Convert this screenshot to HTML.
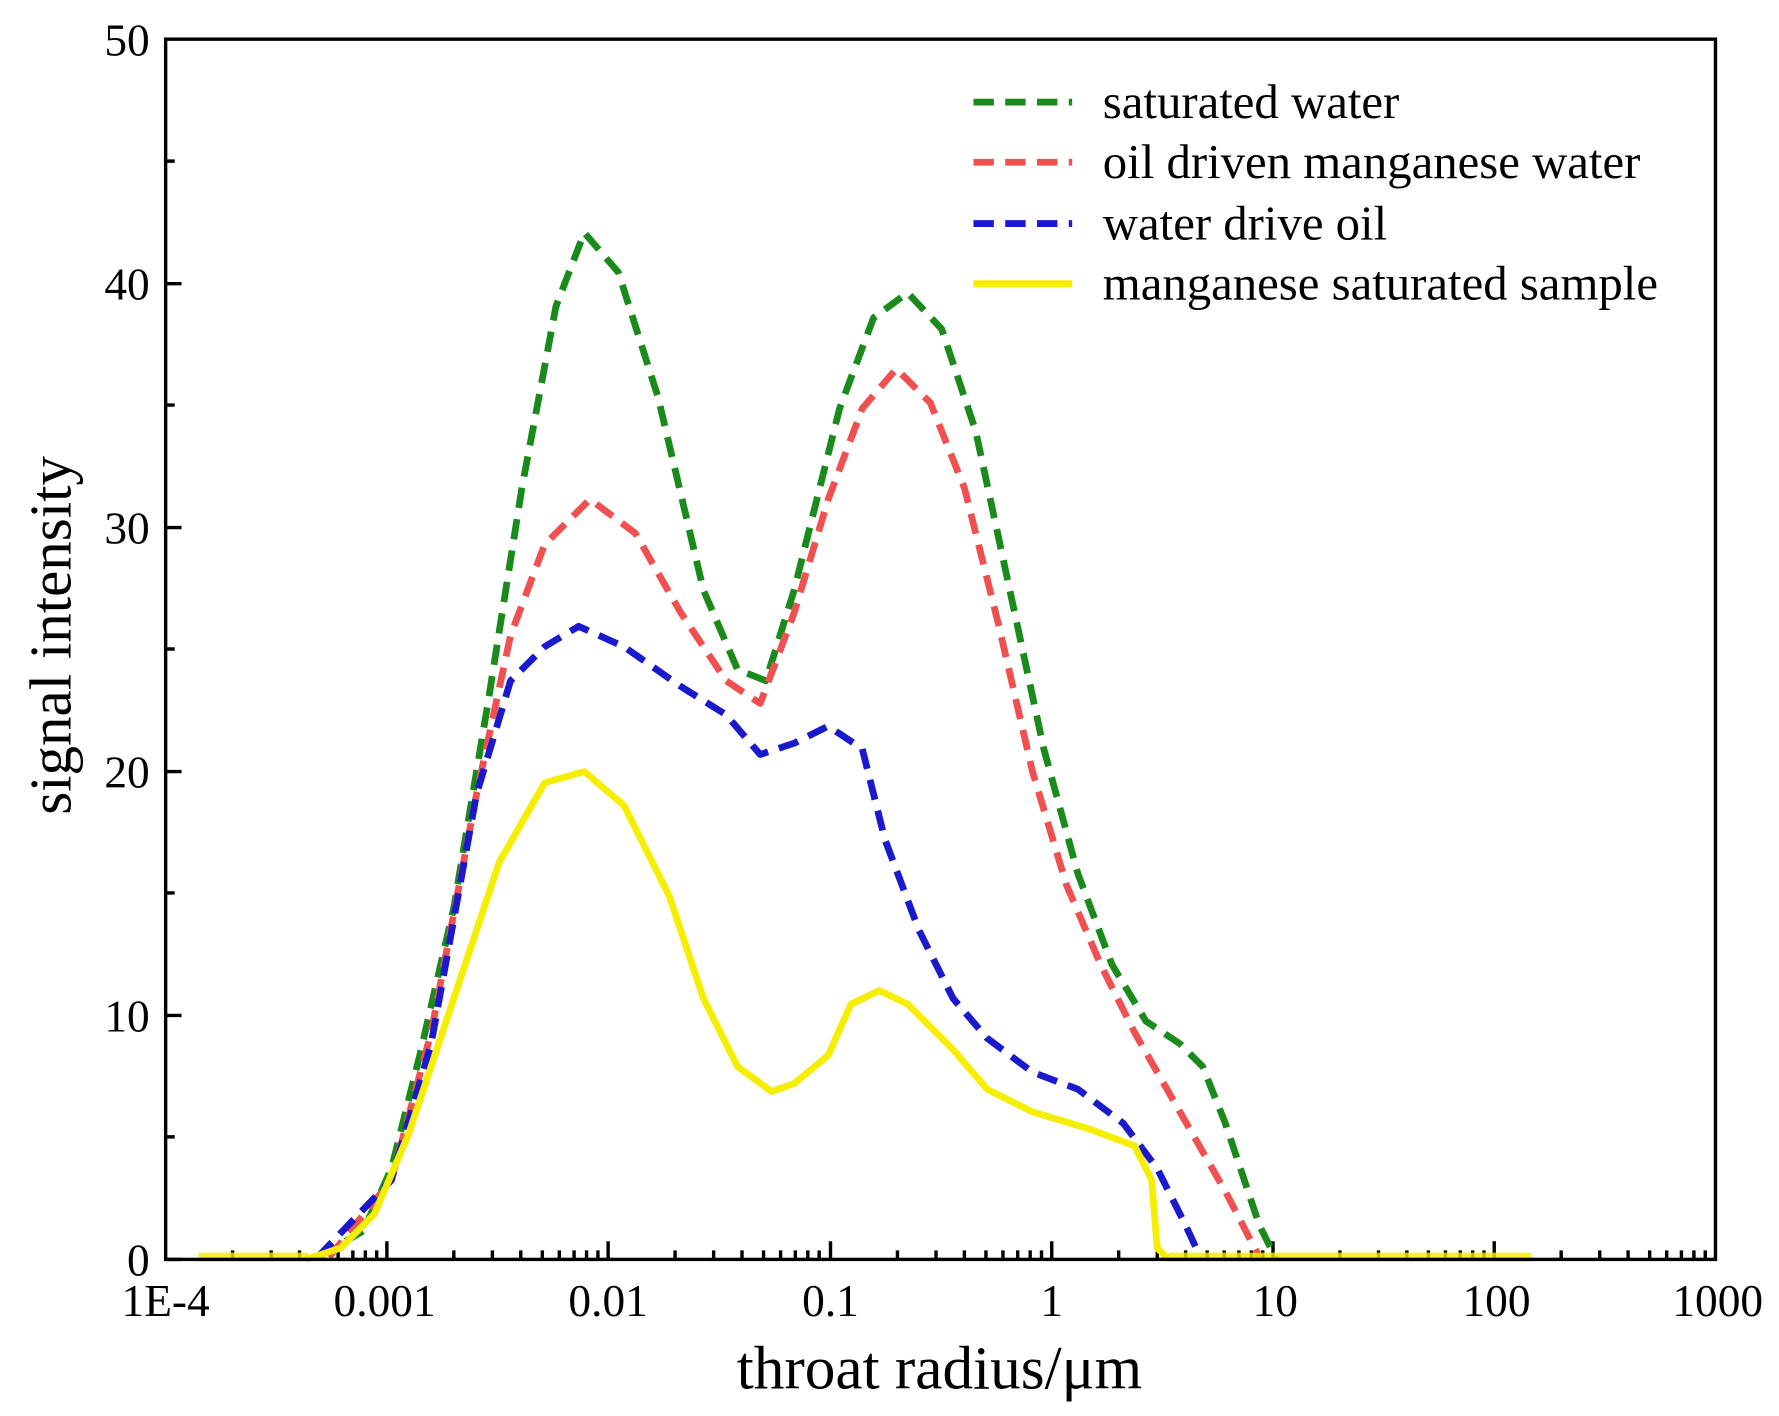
<!DOCTYPE html>
<html><head><meta charset="utf-8"><style>html,body{margin:0;padding:0;background:#fff}svg{display:block}</style></head>
<body>
<svg width="1779" height="1416" viewBox="0 0 1568 1248" xmlns="http://www.w3.org/2000/svg" font-family="'Liberation Serif',serif">
<rect width="1568" height="1248" fill="#fff"/>
<g stroke="#000" stroke-width="3">
<path d="M146 1110h14M146 895h14M146 680h14M146 465h14M146 250h14M146 1002h8M146 787h8M146 572h8M146 357h8M146 142h8"/>
<path d="M341 1110v-16M536 1110v-16M732 1110v-16M927 1110v-16M1122 1110v-16M1317 1110v-16"/>
<path d="M205 1110v-8M239 1110v-8M264 1110v-8M283 1110v-8M298 1110v-8M311 1110v-8M322 1110v-8M332 1110v-8
M400 1110v-8M434 1110v-8M459 1110v-8M478 1110v-8M493 1110v-8M506 1110v-8M517 1110v-8M527 1110v-8
M595 1110v-8M629 1110v-8M654 1110v-8M673 1110v-8M688 1110v-8M701 1110v-8M712 1110v-8M722 1110v-8
M791 1110v-8M825 1110v-8M850 1110v-8M869 1110v-8M884 1110v-8M897 1110v-8M908 1110v-8M918 1110v-8
M986 1110v-8M1020 1110v-8M1045 1110v-8M1064 1110v-8M1079 1110v-8M1092 1110v-8M1103 1110v-8M1113 1110v-8
M1181 1110v-8M1215 1110v-8M1240 1110v-8M1259 1110v-8M1274 1110v-8M1287 1110v-8M1298 1110v-8M1308 1110v-8
M1376 1110v-8M1410 1110v-8M1435 1110v-8M1454 1110v-8M1469 1110v-8M1482 1110v-8M1493 1110v-8M1503 1110v-8"/>
</g>
<g fill="none" stroke-linejoin="round" stroke-linecap="butt" stroke-width="6">
<polyline stroke="#1a8a1a" stroke-dasharray="18 10" points="280,1108 320,1085 345,1030 370,930 400,800 430,620 460,430 490,270 515,205 545,240 580,350 620,520 650,590 675,600 700,520 740,360 770,280 800,258 830,290 860,380 890,520 920,660 950,770 980,850 1010,900 1040,920 1060,940 1080,990 1110,1080 1125,1110"/>
<polyline stroke="#f05050" stroke-dasharray="18 10" points="290,1108 345,1040 380,910 420,700 450,560 480,480 520,440 560,470 600,540 640,600 670,620 700,540 730,440 760,360 790,325 820,355 850,430 880,550 910,680 940,780 970,850 1000,910 1040,980 1080,1050 1110,1108"/>
<polyline stroke="#1a1acc" stroke-dasharray="18 10" points="280,1108 345,1040 380,920 420,700 450,600 480,570 510,552 550,570 600,605 640,630 670,665 700,655 730,640 760,660 780,740 810,820 840,880 870,915 910,945 950,960 990,990 1020,1030 1045,1080 1058,1108"/>
<polyline stroke="#f5ee00" points="270,1110 300,1100 330,1070 360,1000 400,880 440,760 480,690 515,680 550,710 590,790 620,880 650,940 680,962 700,955 730,930 750,885 775,873 800,885 840,925 870,960 910,980 960,995 1000,1010 1015,1040 1020,1100 1030,1110"/>
<path stroke="#f5ee00" stroke-width="8" d="M175 1108H272M1030 1108H1350" opacity="0.8"/>
</g>
<rect x="146" y="34.5" width="1366" height="1075.5" fill="none" stroke="#000" stroke-width="3"/>
<g font-size="40" text-anchor="end" fill="#000">
<text x="132" y="1124">0</text><text x="132" y="909">10</text><text x="132" y="694">20</text>
<text x="132" y="479">30</text><text x="132" y="264">40</text><text x="132" y="49">50</text>
</g>
<g font-size="40" text-anchor="middle" fill="#000">
<text x="146" y="1160">1E-4</text><text x="339" y="1160">0.001</text><text x="536" y="1160">0.01</text>
<text x="732" y="1160">0.1</text><text x="927" y="1160">1</text><text x="1124" y="1160">10</text>
<text x="1319" y="1160">100</text><text x="1514" y="1160">1000</text>
</g>
<text x="828" y="1224" font-size="54" text-anchor="middle">throat radius/μm</text>
<text transform="translate(62,560) rotate(-90)" font-size="52" text-anchor="middle">signal intensity</text>
<g stroke-width="6" fill="none">
<path d="M858 90h87" stroke="#1a8a1a" stroke-dasharray="18 10"/>
<path d="M858 143h87" stroke="#f05050" stroke-dasharray="18 10"/>
<path d="M858 197h87" stroke="#1a1acc" stroke-dasharray="18 10"/>
<path d="M858 250h87" stroke="#f5ee00"/>
</g>
<g font-size="43" fill="#000">
<text x="972" y="104">saturated water</text>
<text x="972" y="157">oil driven manganese water</text>
<text x="972" y="211">water drive oil</text>
<text x="972" y="264">manganese saturated sample</text>
</g>
</svg>
</body></html>
